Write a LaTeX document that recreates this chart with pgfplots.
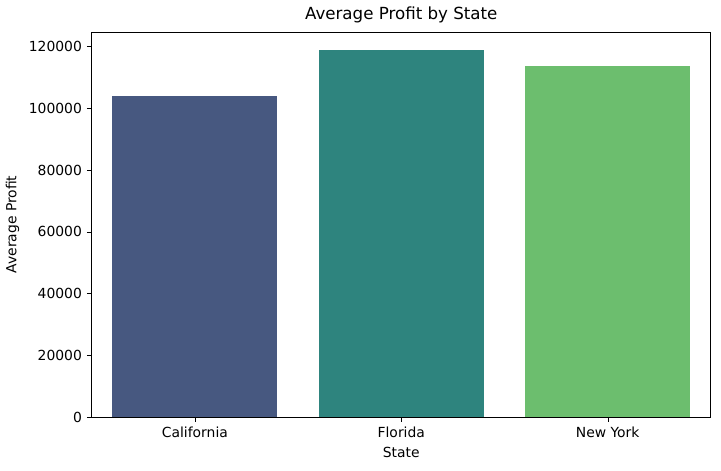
\documentclass[border=0pt]{standalone}
\usepackage{pgfplots}
\pgfplotsset{compat=1.18}
\usepackage{fontspec}
\setmainfont{DejaVu Sans}
\definecolor{ca}{RGB}{71,88,128}
\definecolor{fl}{RGB}{46,132,126}
\definecolor{ny}{RGB}{108,190,110}
\begin{document}
\begin{tikzpicture}
\useasboundingbox (-66pt,-38.2pt) rectangle (453pt,300.2pt);
\begin{axis}[
  scale only axis, width=445.7pt, height=277.2pt,
  xmin=-0.5, xmax=2.5, ymin=0, ymax=124700,
  xtick={0,1,2}, xticklabels={California,Florida,New York},
  ytick={0,20000,40000,60000,80000,100000,120000},
  scaled y ticks=false,
  /pgf/number format/assume math mode=true,
  yticklabel={\pgfmathprintnumber[fixed,1000 sep={}]{\tick}},
  tick style={black}, tick align=outside, major tick length=3.5pt,
  xtick pos=bottom, ytick pos=left,
  ticklabel style={font=\fontsize{10}{12}\selectfont},
  xlabel={State}, ylabel={Average Profit},
  label style={font=\fontsize{10}{12}\selectfont},
  title={Average Profit by State},
  title style={font=\fontsize{12}{14}\selectfont, yshift=-3pt},
  axis line style={black, line width=0.6pt},
]
\addplot[fill=ca, draw=none, ybar, bar width=0.8, bar shift=0pt] coordinates {(0,103905)};
\addplot[fill=fl, draw=none, ybar, bar width=0.8, bar shift=0pt] coordinates {(1,118774)};
\addplot[fill=ny, draw=none, ybar, bar width=0.8, bar shift=0pt] coordinates {(2,113756)};
\end{axis}
\end{tikzpicture}
\end{document}
